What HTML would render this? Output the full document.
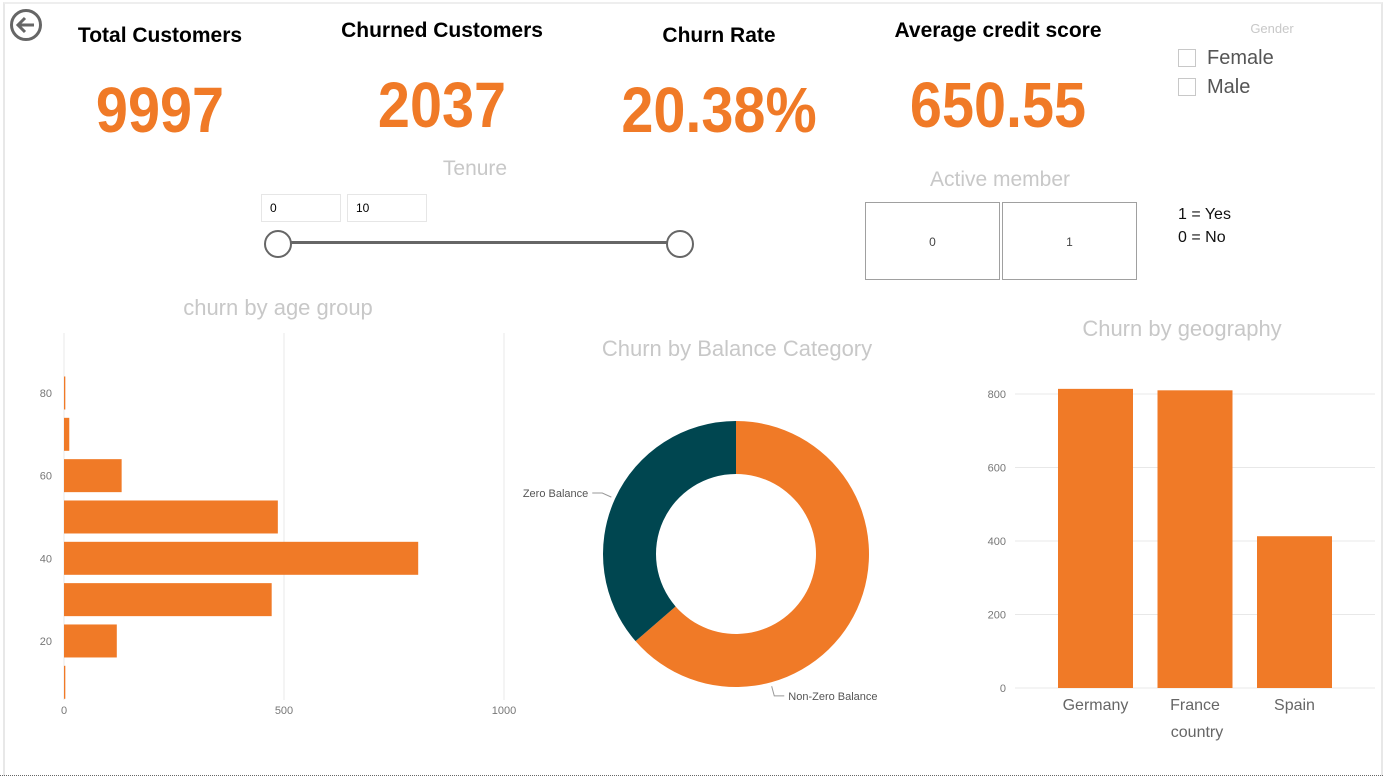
<!DOCTYPE html>
<html><head><meta charset="utf-8">
<style>
body{margin:0;width:1383px;height:781px;background:#fff;font-family:"Liberation Sans",sans-serif;position:relative;overflow:hidden}
.abs{position:absolute}
.kt{position:absolute;font-weight:bold;font-size:21px;color:#000;white-space:nowrap;transform:translateX(-50%)}
.kv{position:absolute;font-weight:bold;font-size:64px;color:#f07a27;white-space:nowrap;transform:translateX(-50%) scaleX(0.9);line-height:1}
.ttl{position:absolute;color:#c8c8c8;white-space:nowrap;transform:translateX(-50%)}
.box{position:absolute;border:1px solid #e6e6e6;font-size:12px;line-height:26px;padding-left:8px;box-sizing:border-box}
.am{position:absolute;border:1px solid #a0a0a0;width:135px;height:78px;box-sizing:border-box;text-align:center;line-height:78px;font-size:12px;color:#444}
.cb{position:absolute;width:18px;height:18px;border:1px solid #c8c8c8;box-sizing:border-box}
</style></head><body>
<div class="abs" style="left:3px;top:2px;width:1376px;height:772px;border-left:2px solid #e8e8e8;border-right:2px solid #e8e8e8;border-top:2px solid #eee"></div>
<div class="abs" style="left:0;top:775px;width:1383px;border-top:1px dotted #666"></div>
<svg class="abs" style="left:9px;top:8px" width="36" height="36" viewBox="0 0 36 36"><circle cx="17" cy="17" r="14.5" fill="none" stroke="#666" stroke-width="3"/><path d="M25 17H10M16 10l-7 7 7 7" fill="none" stroke="#666" stroke-width="3"/></svg>

<div class="kt" style="left:160px;top:24px">Total Customers</div>
<div class="kv" style="left:160px;top:78px">9997</div>
<div class="kt" style="left:442px;top:19px">Churned Customers</div>
<div class="kv" style="left:442px;top:73px">2037</div>
<div class="kt" style="left:719px;top:24px">Churn Rate</div>
<div class="kv" style="left:719px;top:78px">20.38%</div>
<div class="kt" style="left:998px;top:19px">Average credit score</div>
<div class="kv" style="left:998px;top:73px">650.55</div>

<div class="ttl" style="left:1272px;top:21px;font-size:13px">Gender</div>
<div class="cb" style="left:1178px;top:49px"></div>
<div class="abs" style="left:1207px;top:47px;font-size:20px;color:#555">Female</div>
<div class="cb" style="left:1178px;top:78px"></div>
<div class="abs" style="left:1207px;top:76px;font-size:20px;color:#555">Male</div>

<div class="ttl" style="left:475px;top:157px;font-size:21px">Tenure</div>
<div class="box" style="left:261px;top:194px;width:80px;height:28px">0</div>
<div class="box" style="left:347px;top:194px;width:80px;height:28px">10</div>
<div class="abs" style="left:277px;top:241px;width:402px;height:3px;background:#666"></div>
<div class="abs" style="left:264px;top:230px;width:24px;height:24px;border:2px solid #666;border-radius:50%;background:#fff"></div>
<div class="abs" style="left:666px;top:230px;width:24px;height:24px;border:2px solid #666;border-radius:50%;background:#fff"></div>

<div class="ttl" style="left:1000px;top:168px;font-size:21px">Active member</div>
<div class="am" style="left:865px;top:202px">0</div>
<div class="am" style="left:1002px;top:202px">1</div>
<div class="abs" style="left:1178px;top:203px;font-size:16px;line-height:23px;color:#111">1 = Yes<br>0 = No</div>

<div class="ttl" style="left:278px;top:295px;font-size:22px">churn by age group</div>
<div class="ttl" style="left:737px;top:336px;font-size:22px">Churn by Balance Category</div>
<div class="ttl" style="left:1182px;top:316px;font-size:22px">Churn by geography</div>

<svg class="abs" id="charts" style="left:0;top:0" width="1383" height="781" font-family="Liberation Sans, sans-serif"></svg>

<script>
const ageCats=[10,20,30,40,50,60,70,80];
const ageVals=[3,120,472,805,486,131,12,3];
const ageYTicks=[20,40,60,80];
const ageXTicks=[0,500,1000];
const balCats=["Non-Zero Balance","Zero Balance"];
const balVals=[1296,741];
const geoCats=["Germany","France","Spain"];
const geoVals=[814,810,413];
const geoYTicks=[0,200,400,600,800];

const svg=document.getElementById('charts');
const NS='http://www.w3.org/2000/svg';
function mk(t,a,p){const e=document.createElementNS(NS,t);for(const k in a)e.setAttribute(k,a[k]);(p||svg).appendChild(e);return e;}
const OR='#f07a27';

// age chart
const ax=v=>64+v*0.44;
const ay=v=>682.3-(v-10)*4.133;
ageXTicks.forEach(t=>{
  const l=mk('line',{x1:ax(t),x2:ax(t),y1:333,y2:700,stroke:'#e8e8e8'});
  
  
  const tx=mk('text',{x:ax(t),y:714,'font-size':11,fill:'#777','text-anchor':'middle'});tx.textContent=t;
  
  
});
ageYTicks.forEach(t=>{
  const tx=mk('text',{x:52,y:ay(t)+4,'font-size':11,fill:'#777','text-anchor':'end'});tx.textContent=t;
  
  
});
ageCats.forEach((c,i)=>{
  const r=mk('rect',{x:ax(0),y:ay(c)-16.5,width:Math.max(1,ax(ageVals[i])-ax(0)),height:33,fill:OR});
  
  
});

// donut
const cx=736,cy=554,R=133,r0=80;
const tot=balVals.reduce((a,b)=>a+b,0);
const cols=[OR,'#004650'];
const labelFrac=[0.72,0.5];
let a0=0;
function pt(a,rad){return [cx+rad*Math.sin(a),cy-rad*Math.cos(a)];}
balVals.forEach((v,i)=>{
  const a1=a0+v/tot*2*Math.PI;
  const [x1,y1]=pt(a0,R),[x2,y2]=pt(a1,R),[x3,y3]=pt(a1,r0),[x4,y4]=pt(a0,r0);
  const lg=(a1-a0)>Math.PI?1:0;
  const p=mk('path',{d:`M${x1},${y1}A${R},${R} 0 ${lg} 1 ${x2},${y2}L${x3},${y3}A${r0},${r0} 0 ${lg} 0 ${x4},${y4}Z`,fill:cols[i]});
  
  
  const mid=a0+(a1-a0)*labelFrac[i];
  const [lx,ly]=pt(mid,R+4),[ex,ey]=pt(mid,R+14);
  const right=Math.sin(mid)>0;
  const hx=ex+(right?10:-10);
  const ln=mk('polyline',{points:`${lx},${ly} ${ex},${ey} ${hx},${ey}`,fill:'none',stroke:'#999'});
  
  
  const t=mk('text',{x:hx+(right?4:-4),y:ey+4,'font-size':11,fill:'#555','text-anchor':right?'start':'end'});
  t.textContent=balCats[i];
  
  
  a0=a1;
});

// geography
const gy=v=>688-v*0.3675;
const gx=i=>1058+i*99.5;
geoYTicks.forEach(t=>{
  const l=mk('line',{x1:1015,x2:1375,y1:gy(t),y2:gy(t),stroke:'#e8e8e8'});
  
  
  const tx=mk('text',{x:1006,y:gy(t)+4,'font-size':11,fill:'#777','text-anchor':'end'});tx.textContent=t;
  
  
});
geoCats.forEach((c,i)=>{
  const r=mk('rect',{x:gx(i),y:gy(geoVals[i]),width:75,height:gy(0)-gy(geoVals[i]),fill:OR});
  
  
  const t=mk('text',{x:gx(i)+37.5,y:710,'font-size':16,fill:'#666','text-anchor':'middle'});t.textContent=c;
  
  
});
const xt=mk('text',{x:1197,y:737,'font-size':16,fill:'#666','text-anchor':'middle'});xt.textContent='country';


</script>
</body></html>
